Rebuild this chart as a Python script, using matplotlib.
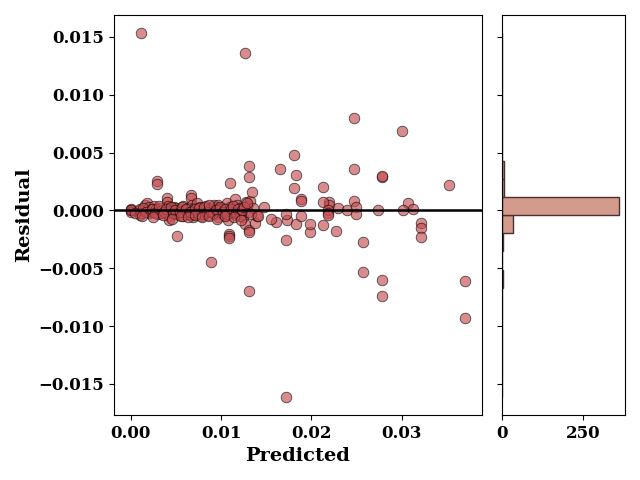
import matplotlib
matplotlib.use("Agg")
import matplotlib.pyplot as plt
import numpy as np

#####################################################################
# Data (predicted value, residual)

predicted = [
    # dense band near zero
    0.0000, 0.0000, 0.0000, 0.0000, 0.0010, 0.0010, 0.0010, 0.0011,
    0.0016, 0.0018, 0.0020, 0.0020, 0.0022, 0.0024,
    0.0026, 0.0028, 0.0029, 0.0029, 0.0030, 0.0032, 0.0034, 0.0035,
    0.0040, 0.0040, 0.0041, 0.0041, 0.0042, 0.0042, 0.0043, 0.0045,
    0.0048, 0.0050, 0.0050, 0.0051, 0.0052, 0.0053, 0.0055,
    0.0058, 0.0058, 0.0060, 0.0062, 0.0063, 0.0065,
    0.0067, 0.0067, 0.0068, 0.0068, 0.0069, 0.0070, 0.0072, 0.0073,
    0.0075, 0.0077, 0.0078, 0.0080, 0.0082, 0.0083, 0.0085, 0.0086,
    0.0088, 0.0089, 0.0090, 0.0092, 0.0093, 0.0095,
    0.0096, 0.0097, 0.0098, 0.0100, 0.0101, 0.0103, 0.0105, 0.0107,
    0.0108, 0.0109, 0.0109, 0.0109, 0.0110, 0.0110, 0.0112,
    0.0115, 0.0117, 0.0118, 0.0120, 0.0122, 0.0124, 0.0126, 0.0127,
    0.0128, 0.0129, 0.0130, 0.0131, 0.0131, 0.0131, 0.0131, 0.0131,
    0.0132, 0.0134, 0.0135, 0.0138, 0.0140, 0.0148,
    # second layer in the band
    0.0005, 0.0013, 0.0017, 0.0023, 0.0027, 0.0031, 0.0037, 0.0039,
    0.0044, 0.0047, 0.0049, 0.0054, 0.0057, 0.0061, 0.0064, 0.0066,
    0.0071, 0.0074, 0.0076, 0.0079, 0.0081, 0.0084, 0.0087, 0.0091,
    0.0094, 0.0099, 0.0102, 0.0104, 0.0106, 0.0111, 0.0113, 0.0116,
    0.0119, 0.0121, 0.0123, 0.0125, 0.0129, 0.0133,
    # third layer, slightly below the line
    0.0012, 0.0025, 0.0036, 0.0046, 0.0056, 0.0063, 0.0071, 0.0079,
    0.0087, 0.0095, 0.0104, 0.0114, 0.0122,
    # sparse points
    0.0011, 0.0165, 0.0181, 0.0183, 0.0247, 0.0300, 0.0247, 0.0278,
    0.0278, 0.0189, 0.0189, 0.0213, 0.0181, 0.0352, 0.0307, 0.0247,
    0.0220, 0.0220, 0.0213, 0.0230, 0.0240, 0.0250, 0.0250, 0.0274,
    0.0302, 0.0313, 0.0322, 0.0322, 0.0321, 0.0257, 0.0257, 0.0278,
    0.0278, 0.0370, 0.0370, 0.0172, 0.0172, 0.0198, 0.0227, 0.0213,
    0.0198, 0.0173, 0.0161, 0.0183, 0.0189, 0.0172, 0.0155, 0.0141,
    0.0218, 0.0218, 0.0218,
]

residual = [
    0.0000, 0.0001, -0.0001, 0.0000, 0.0000, -0.0004, 0.0001, -0.0002,
    0.0005, 0.0006, 0.0003, -0.0002, 0.0000, -0.0001,
    0.0004, 0.0001, 0.0025, 0.0023, -0.0003, 0.0002, -0.0002, 0.0000,
    0.0011, 0.0007, 0.0004, -0.0001, -0.0005, -0.0008, 0.0002, 0.0000,
    0.0003, -0.0003, 0.0002, -0.0022, 0.0000, -0.0004, 0.0001,
    0.0004, -0.0005, 0.0000, -0.0002, 0.0002, -0.0004,
    0.0013, 0.0011, 0.0005, -0.0001, -0.0006, 0.0002, -0.0003, 0.0006,
    0.0000, 0.0003, -0.0005, 0.0001, -0.0002, 0.0004, -0.0004, 0.0000,
    0.0002, -0.0045, -0.0001, 0.0005, -0.0003, 0.0003,
    0.0005, -0.0006, 0.0001, -0.0002, 0.0002, -0.0004, 0.0000, 0.0006,
    -0.0008, -0.0020, -0.0022, -0.0024, 0.0024, 0.0003, -0.0001,
    0.0010, -0.0004, 0.0005, -0.0003, 0.0002, -0.0006, -0.0012, 0.0136,
    0.0007, 0.0004, -0.0001, 0.0038, 0.0029, -0.0017, -0.0019, -0.0070,
    0.0008, 0.0016, 0.0002, -0.0011, -0.0005, 0.0003,
    -0.0002, 0.0002, -0.0001, 0.0001, -0.0002, 0.0004, -0.0001, 0.0001,
    0.0003, -0.0002, 0.0000, -0.0001, 0.0003, 0.0001, -0.0003, -0.0001,
    0.0001, -0.0002, 0.0002, -0.0003, 0.0003, -0.0001, 0.0005, -0.0002,
    0.0000, 0.0003, -0.0001, 0.0001, -0.0003, 0.0001, 0.0004, -0.0002,
    0.0001, -0.0005, 0.0000, 0.0003, 0.0006, -0.0003,
    -0.0005, -0.0006, -0.0004, -0.0007, -0.0005, -0.0006, -0.0004, -0.0006,
    -0.0005, -0.0007, -0.0005, -0.0006, -0.0008,
    0.0153, 0.0036, 0.0048, 0.0031, 0.0080, 0.0069, 0.0036, 0.0029,
    0.0030, 0.0010, 0.0008, 0.0020, 0.0019, 0.0022, 0.0006, 0.0008,
    0.0007, 0.0005, 0.0007, 0.0002, 0.0000, 0.0003, -0.0003, 0.0000,
    0.0000, 0.0001, -0.0011, -0.0015, -0.0023, -0.0027, -0.0053, -0.0060,
    -0.0074, -0.0061, -0.0093, -0.0161, -0.0026, -0.0019, -0.0018, -0.0013,
    -0.0012, -0.0008, -0.0010, -0.0012, -0.0005, -0.0003, -0.0007, -0.0005,
    0.0000, -0.0002, -0.0004,
]

# counts of the residual histogram (20 bins, bottom to top)
hist_counts = [1, 0, 0, 0, 1, 2, 3, 1, 3, 35,
               360, 8, 7, 1, 1, 1, 0, 0, 1, 1]

#####################################################################
# Plotting

plt.rcParams['font.family'] = 'DejaVu Serif'
plt.rcParams['font.weight'] = 'bold'

fig = plt.figure(figsize=(6.4, 4.8), dpi=100)
ax = fig.add_axes([0.178, 0.135, 0.575, 0.834])
axh = fig.add_axes([0.784, 0.135, 0.193, 0.834], sharey=ax)

ax.scatter(predicted, residual, s=58, color='#c44e52', alpha=0.65,
           edgecolors='k', linewidths=0.6, zorder=2)
ax.axhline(0, color='k', linewidth=1.8, zorder=3)

ax.set_xlim(-0.00188, 0.0389)
ax.set_ylim(-0.0177, 0.0169)
ax.set_xticks([0.0, 0.01, 0.02, 0.03])
ax.set_xticklabels(['0.00', '0.01', '0.02', '0.03'])
ax.set_yticks([-0.015, -0.01, -0.005, 0.0, 0.005, 0.01, 0.015])
ax.set_yticklabels(['\u22120.015', '\u22120.010', '\u22120.005', '0.000',
                    '0.005', '0.010', '0.015'])
ax.tick_params(labelsize=12)
ax.set_xlabel('Predicted', fontsize=14, fontweight='bold')
ax.set_ylabel('Residual', fontsize=14, fontweight='bold')

# histogram of residuals, bins spanning the residual range
edges = np.linspace(min(residual), max(residual), len(hist_counts) + 1)
centers = (edges[:-1] + edges[1:]) / 2
axh.hist(centers, bins=edges, weights=hist_counts, orientation='horizontal',
         color='#d49a8b', edgecolor='#4a3030', linewidth=1)
axh.set_xlim(0, 380)
axh.set_xticks([0, 250])
axh.tick_params(labelsize=12, labelleft=False)

fig.savefig('out.png', dpi=100)
